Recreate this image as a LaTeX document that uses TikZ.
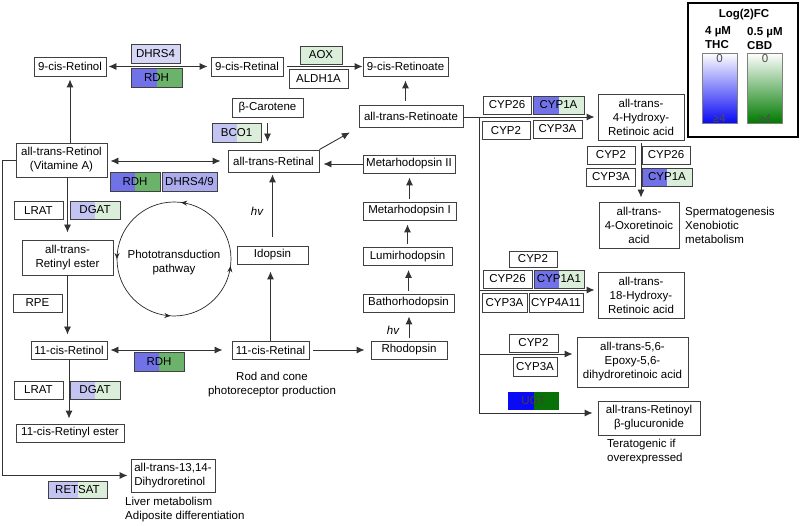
\documentclass[tikz,border=0pt]{standalone}
\usepackage{fontspec}
\setmainfont{Liberation Sans}
\usepackage{tikz}
\usetikzlibrary{arrows.meta,positioning,calc,decorations.markings}
\definecolor{lavlight}{HTML}{D6D6F6}
\definecolor{lavmid}{HTML}{C4C4F2}
\definecolor{lavdark}{HTML}{ABABEE}
\definecolor{bluemid}{HTML}{7272E8}
\definecolor{greenmid}{HTML}{6BB36B}
\definecolor{greenpale}{HTML}{DAEEDA}
\definecolor{ugtblue}{HTML}{0A0AF5}
\definecolor{ugtgreen}{HTML}{087208}
\definecolor{cbdgreen}{HTML}{007A00}
\tikzset{
  cmpd/.style={draw=black!75, line width=0.9pt, fill=white, align=center, inner xsep=3pt, inner ysep=2pt, minimum height=18pt},
  enz/.style={draw=black!75, line width=0.9pt, fill=white, inner xsep=2pt, inner ysep=1pt, minimum width=48pt, minimum height=18pt},
  halves/.style 2 args={path picture={
      \fill[#1] (path picture bounding box.south west) rectangle (path picture bounding box.north);
      \fill[#2] (path picture bounding box.north) rectangle (path picture bounding box.south east);}},
  arr/.style={draw=black!80, line width=0.9pt, -{Latex[length=8pt,width=7pt]}},
  darr/.style={draw=black!80, line width=0.9pt, {Latex[length=8pt,width=7pt]}-{Latex[length=8pt,width=7pt]}},
  note/.style={align=left, inner sep=0pt},
  bar/.style={draw=black!50, line width=0.6pt, minimum width=35pt, minimum height=70pt},
}

\begin{document}
\begin{tikzpicture}[x=1pt, y=-1pt, font=\fontsize{11.5}{14}\selectfont]
\useasboundingbox (0,0) rectangle (800,526);

% compounds
\node[cmpd, minimum width=72pt, minimum height=19pt] (ncrol) at (70,66.5) {9-cis-Retinol};
\node[cmpd, minimum width=72pt, minimum height=19pt] (ncral) at (247,66.5) {9-cis-Retinal};
\node[cmpd, minimum width=85pt, minimum height=19pt] (ncoate) at (405.5,66.5) {9-cis-Retinoate};
\node[cmpd, minimum width=71pt, minimum height=19pt] (carot) at (267.5,107.5) {β-Carotene};
\node[cmpd, minimum width=91pt, minimum height=22pt] (atral) at (273.5,161) {all-trans-Retinal};
\node[cmpd, minimum width=91pt, minimum height=34pt] (atrol) at (61.5,160) {all-trans-Retinol\\(Vitamine A)};
\node[cmpd, minimum width=104pt, minimum height=22pt] (atroate) at (411,116) {all-trans-Retinoate};
\node[cmpd, minimum width=92pt] (meta2) at (409,164) {Metarhodopsin II};
\node[cmpd, minimum width=93pt] (meta1) at (409.5,211) {Metarhodopsin I};
\node[cmpd, minimum width=89pt] (lumi) at (407.5,256.5) {Lumirhodopsin};
\node[cmpd, minimum width=91pt] (batho) at (408.5,303) {Bathorhodopsin};
\node[cmpd, minimum width=76pt] (rhod) at (409,350) {Rhodopsin};
\node[cmpd, minimum width=71pt] (idop) at (272.5,255) {Idopsin};
\node[cmpd, minimum width=77pt] (ucral) at (270.5,350) {11-cis-Retinal};
\node[cmpd, minimum width=76pt] (ucrol) at (69,350) {11-cis-Retinol};
\node[cmpd, minimum width=91pt, minimum height=35pt] (ester) at (67.5,257.5) {all-trans-\\Retinyl ester};
\node[cmpd, minimum width=108pt] (ucester) at (70,433) {11-cis-Retinyl ester};
\node[cmpd, align=left, minimum width=84pt, minimum height=33pt] (dihyd) at (173,475.5) {all-trans-13,14-\\Dihydroretinol};
\node[cmpd, minimum width=86pt, minimum height=46pt] (hyd4) at (641,117) {all-trans-\\4-Hydroxy-\\Retinoic acid};
\node[cmpd, minimum width=80pt, minimum height=46pt] (oxo) at (639,225) {all-trans-\\4-Oxoretinoic\\acid};
\node[cmpd, minimum width=86pt, minimum height=46pt] (hyd18) at (641,295) {all-trans-\\18-Hydroxy-\\Retinoic acid};
\node[cmpd, minimum width=111pt, minimum height=50pt] (epoxy) at (632.5,362) {all-trans-5,6-\\Epoxy-5,6-\\dihydroretinoic acid};
\node[cmpd, minimum width=102pt, minimum height=34pt] (gluc) at (649,418) {all-trans-Retinoyl\\β-glucuronide};

% enzymes
\node[enz, fill=lavlight, minimum width=49pt, minimum height=19pt] (dhrs4) at (155.5,53.5) {DHRS4};
\node[enz, halves={bluemid}{greenmid}, minimum width=51pt, minimum height=19pt] (rdha) at (156.5,77.5) {RDH};
\node[enz, fill=greenpale, minimum width=42pt] (aox) at (321,55) {AOX};
\node[enz, minimum width=59pt, minimum height=19pt] (aldh) at (318.5,78.5) {ALDH1A};
\node[enz, halves={lavmid}{greenpale}, minimum width=49pt, minimum height=19pt] (bco) at (236.5,132.5) {BCO1};
\node[enz, halves={bluemid}{greenmid}, minimum width=50pt, minimum height=19pt] (rdhb) at (135,181.5) {RDH};
\node[enz, fill=lavdark, minimum width=55pt, minimum height=19pt] (dhrs49) at (189.5,181.5) {DHRS4/9};
\node[enz, minimum width=49pt] (lrata) at (38.5,210.5) {LRAT};
\node[enz, halves={lavmid}{greenpale}, minimum width=50pt] (dgata) at (95,210) {DGAT};
\node[enz, minimum width=49pt] (rpe) at (37.5,303) {RPE};
\node[enz, halves={bluemid}{greenmid}, minimum width=50pt, minimum height=19pt] (rdhc) at (159,361.5) {RDH};
\node[enz, minimum width=49pt] (lratb) at (38.5,390) {LRAT};
\node[enz, halves={lavmid}{greenpale}, minimum width=50pt] (dgatb) at (95,390) {DGAT};
\node[enz, halves={lavmid}{greenpale}, minimum width=59pt, minimum height=17pt] (retsat) at (77.5,489.5) {RETSAT};
\node[enz] (cyp26a) at (507,105) {CYP26};
\node[enz, halves={bluemid}{greenpale}, minimum width=51pt] (cyp1aa) at (558.5,105) {CYP1A};
\node[enz] (cyp2a) at (506,130.5) {CYP2};
\node[enz, minimum width=49pt] (cyp3aa) at (557.5,129) {CYP3A};
\node[enz] (cyp2b) at (611,155) {CYP2};
\node[enz] (cyp26b) at (666,155) {CYP26};
\node[enz, minimum width=49pt] (cyp3ab) at (611,177) {CYP3A};
\node[enz, halves={bluemid}{greenpale}, minimum width=50pt] (cyp1ab) at (667,177) {CYP1A};
\node[enz, minimum height=16pt] (cyp2c) at (533,259) {CYP2};
\node[enz, minimum width=49pt] (cyp26c) at (507.5,279) {CYP26};
\node[enz, halves={bluemid}{greenpale}, minimum width=50pt] (cyp1a1) at (559,279) {CYP1A1};
\node[enz, minimum width=45pt, minimum height=19pt] (cyp3ac) at (504.5,302.5) {CYP3A};
\node[enz, minimum width=54pt, minimum height=19pt] (cyp4a) at (556,302.5) {CYP4A11};
\node[enz, minimum width=49pt] (cyp2d) at (533.5,343) {CYP2};
\node[enz, minimum width=44pt, minimum height=19pt] (cyp3ad) at (535,366.5) {CYP3A};
\node[enz, halves={ugtblue}{ugtgreen}, draw=none, text=black!75, minimum width=51pt] (ugt) at (533.5,401) {UGT};

% notes
\node[note, font=\fontsize{11.5}{14}\itshape] (hva) at (257,211) {hv};
\node[note, font=\fontsize{11.5}{14}\itshape] (hvb) at (393,330) {hv};
\node[note, align=center] (rodcone) at (272,385) {Rod and cone\\photoreceptor production};
\node[note, anchor=west] (liver) at (125,510) {Liver metabolism\\Adiposite differentiation};
\node[note, anchor=west] (sperm) at (685,225) {Spermatogenesis\\Xenobiotic\\metabolism};
\node[note, anchor=west] (terat) at (607,451.5) {Teratogenic if\\overexpressed};
\node[note, align=center] (photo) at (174,263) {Phototransduction\\pathway};

% phototransduction cycle
\draw[black!85, line width=0.7pt, postaction={decorate}, decoration={markings,
    mark=at position 0.23 with {\arrow{Stealth[length=6pt,width=5pt]}},
    mark=at position 0.5 with {\arrow{Stealth[length=6pt,width=5pt]}},
    mark=at position 0.74 with {\arrow{Stealth[length=6pt,width=5pt]}},
    mark=at position 0.98 with {\arrow{Stealth[length=6pt,width=5pt]}}}]
  (231,259) arc[start angle=0, end angle=-360, radius=57];

% reactions
\draw[darr, shorten <=2pt, shorten >=3pt] (ncrol) -- (ncral);
\draw[arr, shorten <=4pt] (ncral) -- (ncoate);
\draw[arr, shorten <=6pt, shorten >=8pt] (carot.south) -- (carot.south |- atral.north);
\draw[arr, shorten >=10pt] (atral.north east) -- (atroate.south west);
\draw[arr, shorten <=4pt, shorten >=4pt] (ncoate.south |- atroate.north) -- (ncoate.south);
\draw[arr, shorten >=4pt] (meta2.west) -- (meta2.west -| atral.east);
\draw[darr, shorten <=3pt, shorten >=7pt] (atrol.east |- atral.west) -- (atral.west);
\draw[arr, shorten >=3pt] (atrol.north -| ncrol) -- (ncrol.south);
\draw[arr, shorten >=7pt] (atrol.south -| ester) -- (ester.north);
\draw[arr, shorten >=6pt] (ester.south) -- (ester.south |- ucrol.north);
\draw[arr, shorten >=5pt] (ucrol.south) -- (ucrol.south |- ucester.north);
\draw[darr, shorten <=3pt, shorten >=9pt] (ucrol) -- (ucral);
\draw[arr, shorten <=4pt, shorten >=6pt] (ucral) -- (rhod);
\draw[arr, shorten >=7pt] (ucral.north) -- (ucral.north |- idop.south);
\draw[arr, shorten <=9pt, shorten >=2pt] (idop.north) -- (idop.north |- atral.south);
\foreach \a/\b in {rhod/batho, batho/lumi, lumi/meta1, meta1/meta2}
  \draw[arr, shorten <=3pt, shorten >=4pt] (\a.north) -- (\a.north |- \b.south);
\draw[arr, shorten <=3pt, shorten >=4pt] (hyd4.south) -- (hyd4.south |- oxo.north);
\draw[arr, shorten >=3pt] (atrol.west) -- ++(-13,0) |- (dihyd.west);

% retinoate branches
\coordinate (bus) at (479,117);
\draw[arr, shorten >=3pt] (atroate.east |- bus) -- (bus -| hyd4.west);
\draw[arr, shorten >=3pt] (bus) |- ([yshift=5pt]hyd18.west);
\draw[arr, shorten >=4pt] (bus) |- ([yshift=8pt]epoxy.west);
\draw[arr, shorten >=5pt] (bus) |- ([yshift=5pt]gluc.west);

% legend
\node[draw=black, line width=2pt, minimum width=110pt, minimum height=134pt] (legend) at (743,70) {};
\node[note, font=\fontsize{11.5}{14}\bfseries] (lfc) at (744,15) {Log(2)FC};
\node[note, font=\fontsize{11.5}{14}\bfseries, anchor=west] (thc) at (705,38) {4 µM\\THC};
\node[note, font=\fontsize{11.5}{14}\bfseries, anchor=west] (cbd) at (747,39) {0.5 µM\\CBD};
\node[bar, top color=white, bottom color=ugtblue] (thcbar) at (719.5,88) {};
\node[bar, top color=white, bottom color=cbdgreen] (cbdbar) at (765,88) {};
\node[note, anchor=north, text=black!70] (thctop) at ([yshift=-2pt]thcbar.north) {0};
\node[note, anchor=north, text=black!70] (cbdtop) at ([yshift=-2pt]cbdbar.north) {0};
\node[note, anchor=south, text=black!70] (thcbot) at ([yshift=1pt]thcbar.south) {≥4};
\node[note, anchor=south, text=black!70] (cbdbot) at ([yshift=1pt]cbdbar.south) {≥4};
\end{tikzpicture}
\end{document}
